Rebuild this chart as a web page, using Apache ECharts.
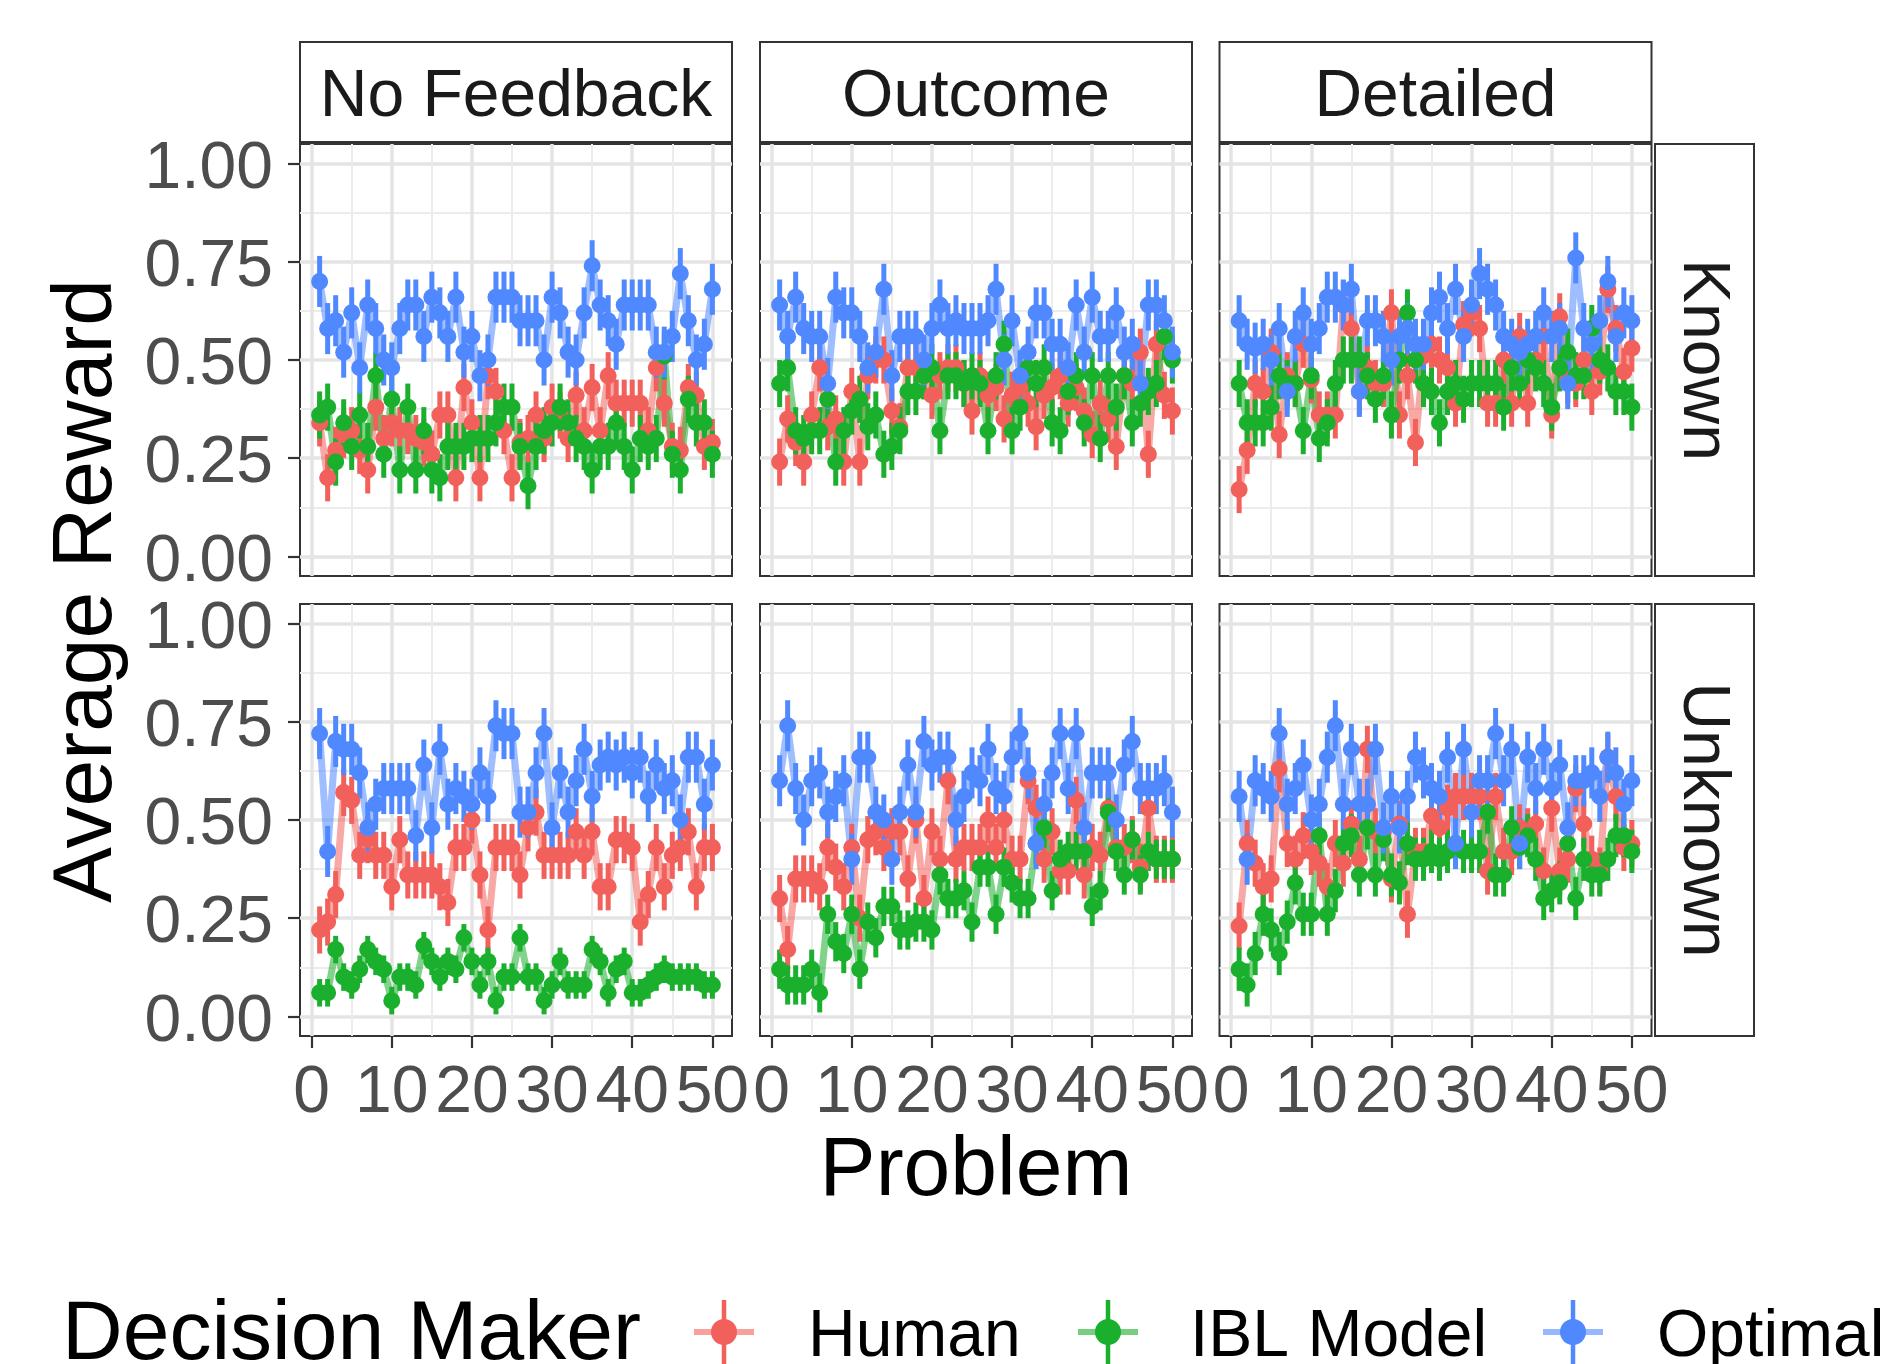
<!DOCTYPE html>
<html>
<head>
<meta charset="utf-8">
<title>Average Reward by Problem</title>
<script src="https://cdn.jsdelivr.net/npm/echarts@6/dist/echarts.min.js"></script>
<style>
  html, body { margin: 0; padding: 0; background: #fff; }
  #chart { width: 1890px; height: 1364px; }
</style>
</head>
<body>
<div id="chart"></div>
<script>
// categories / ticks
const problems = Array.from({ length: 50 }, (_, i) => i + 1);
const feedbackTypes = ['No Feedback', 'Outcome', 'Detailed'];
const knowledgeTypes = ['Known', 'Unknown'];
const decisionMakers = ['Human', 'IBL Model', 'Optimal'];
const xTicks = [0, 10, 20, 30, 40, 50];
const xMinorTicks = [5, 15, 25, 35, 45];
const yTicks = [0, 0.25, 0.5, 0.75, 1];
const yMinorTicks = [0.125, 0.375, 0.625, 0.875];

// No Feedback / Known
const noFeedbackKnownHuman = [
  0.34, 0.20, 0.27, 0.31, 0.32, 0.27, 0.22, 0.38, 0.30, 0.34,
  0.32, 0.32, 0.30, 0.29, 0.26, 0.36, 0.36, 0.20, 0.43, 0.34,
  0.20, 0.46, 0.42, 0.32, 0.20, 0.29, 0.30, 0.36, 0.30, 0.38,
  0.36, 0.30, 0.41, 0.32, 0.43, 0.32, 0.46, 0.39, 0.39, 0.39,
  0.39, 0.32, 0.48, 0.39, 0.28, 0.27, 0.43, 0.41, 0.28, 0.29];
const noFeedbackKnownIBL = [
  0.36, 0.38, 0.24, 0.34, 0.28, 0.36, 0.28, 0.46, 0.26, 0.40,
  0.22, 0.38, 0.22, 0.32, 0.22, 0.20, 0.28, 0.28, 0.28, 0.30,
  0.30, 0.30, 0.34, 0.38, 0.38, 0.28, 0.18, 0.28, 0.32, 0.34,
  0.38, 0.34, 0.30, 0.28, 0.22, 0.28, 0.28, 0.34, 0.28, 0.22,
  0.30, 0.28, 0.30, 0.51, 0.26, 0.22, 0.40, 0.34, 0.34, 0.26];
const noFeedbackKnownOptimal = [
  0.70, 0.58, 0.60, 0.52, 0.62, 0.48, 0.64, 0.58, 0.50, 0.48,
  0.58, 0.64, 0.64, 0.56, 0.66, 0.62, 0.56, 0.66, 0.52, 0.56,
  0.46, 0.50, 0.66, 0.66, 0.66, 0.60, 0.60, 0.60, 0.50, 0.66,
  0.62, 0.52, 0.50, 0.62, 0.74, 0.64, 0.60, 0.54, 0.64, 0.64,
  0.64, 0.64, 0.52, 0.52, 0.56, 0.72, 0.60, 0.50, 0.54, 0.68];

// Outcome / Known
const outcomeKnownHuman = [
  0.24, 0.35, 0.29, 0.24, 0.36, 0.48, 0.33, 0.35, 0.24, 0.42,
  0.24, 0.46, 0.50, 0.50, 0.37, 0.33, 0.48, 0.48, 0.46, 0.41,
  0.46, 0.48, 0.48, 0.44, 0.37, 0.46, 0.41, 0.43, 0.35, 0.41,
  0.43, 0.39, 0.33, 0.41, 0.43, 0.46, 0.39, 0.43, 0.37, 0.31,
  0.39, 0.35, 0.28, 0.46, 0.44, 0.52, 0.26, 0.54, 0.41, 0.37];
const outcomeKnownIBL = [
  0.44, 0.48, 0.32, 0.30, 0.32, 0.32, 0.40, 0.24, 0.32, 0.37,
  0.40, 0.33, 0.36, 0.26, 0.28, 0.32, 0.42, 0.42, 0.46, 0.48,
  0.32, 0.46, 0.46, 0.44, 0.46, 0.44, 0.32, 0.46, 0.54, 0.32,
  0.38, 0.48, 0.44, 0.48, 0.34, 0.32, 0.42, 0.46, 0.34, 0.46,
  0.30, 0.46, 0.38, 0.46, 0.34, 0.39, 0.42, 0.44, 0.56, 0.50];
const outcomeKnownOptimal = [
  0.64, 0.56, 0.66, 0.58, 0.56, 0.56, 0.44, 0.66, 0.62, 0.62,
  0.56, 0.48, 0.52, 0.68, 0.46, 0.56, 0.56, 0.56, 0.50, 0.58,
  0.64, 0.58, 0.60, 0.58, 0.58, 0.58, 0.60, 0.68, 0.50, 0.60,
  0.46, 0.52, 0.62, 0.62, 0.54, 0.54, 0.48, 0.64, 0.52, 0.66,
  0.56, 0.56, 0.62, 0.52, 0.54, 0.44, 0.64, 0.64, 0.60, 0.52];

// Detailed / Known
const detailedKnownHuman = [
  0.17, 0.27, 0.44, 0.42, 0.52, 0.31, 0.46, 0.44, 0.54, 0.45,
  0.36, 0.36, 0.36, 0.64, 0.58, 0.42, 0.48, 0.44, 0.44, 0.62,
  0.36, 0.46, 0.29, 0.51, 0.54, 0.50, 0.48, 0.39, 0.59, 0.62,
  0.58, 0.39, 0.39, 0.50, 0.39, 0.56, 0.39, 0.50, 0.56, 0.36,
  0.61, 0.45, 0.44, 0.50, 0.42, 0.47, 0.68, 0.58, 0.47, 0.53];
const detailedKnownIBL = [
  0.44, 0.34, 0.34, 0.34, 0.38, 0.46, 0.44, 0.44, 0.32, 0.46,
  0.30, 0.34, 0.44, 0.50, 0.50, 0.50, 0.46, 0.40, 0.46, 0.36,
  0.50, 0.62, 0.50, 0.44, 0.42, 0.34, 0.42, 0.44, 0.40, 0.44,
  0.44, 0.44, 0.44, 0.38, 0.48, 0.44, 0.50, 0.48, 0.44, 0.38,
  0.48, 0.52, 0.46, 0.46, 0.58, 0.50, 0.48, 0.42, 0.42, 0.38];
const detailedKnownOptimal = [
  0.60, 0.54, 0.53, 0.54, 0.50, 0.58, 0.42, 0.56, 0.62, 0.54,
  0.58, 0.66, 0.66, 0.64, 0.68, 0.42, 0.60, 0.60, 0.56, 0.50,
  0.56, 0.58, 0.54, 0.54, 0.62, 0.66, 0.58, 0.68, 0.56, 0.64,
  0.72, 0.68, 0.64, 0.56, 0.54, 0.52, 0.54, 0.56, 0.62, 0.56,
  0.58, 0.44, 0.76, 0.58, 0.54, 0.60, 0.70, 0.56, 0.62, 0.60];

// No Feedback / Unknown
const noFeedbackUnknownHuman = [
  0.22, 0.24, 0.31, 0.57, 0.55, 0.41, 0.45, 0.41, 0.41, 0.33,
  0.45, 0.36, 0.36, 0.36, 0.36, 0.33, 0.29, 0.43, 0.43, 0.50,
  0.36, 0.22, 0.43, 0.43, 0.43, 0.36, 0.48, 0.52, 0.41, 0.41,
  0.41, 0.41, 0.47, 0.41, 0.47, 0.33, 0.33, 0.45, 0.45, 0.43,
  0.24, 0.31, 0.43, 0.33, 0.41, 0.43, 0.47, 0.33, 0.43, 0.43];
const noFeedbackUnknownIBL = [
  0.06, 0.06, 0.17, 0.10, 0.08, 0.12, 0.17, 0.14, 0.12, 0.04,
  0.10, 0.10, 0.08, 0.18, 0.14, 0.10, 0.14, 0.12, 0.20, 0.14,
  0.08, 0.14, 0.04, 0.10, 0.10, 0.20, 0.10, 0.10, 0.04, 0.08,
  0.14, 0.08, 0.08, 0.08, 0.17, 0.14, 0.06, 0.12, 0.14, 0.06,
  0.06, 0.08, 0.10, 0.12, 0.10, 0.10, 0.10, 0.10, 0.08, 0.08];
const noFeedbackUnknownOptimal = [
  0.72, 0.42, 0.70, 0.68, 0.68, 0.62, 0.48, 0.54, 0.58, 0.58,
  0.58, 0.58, 0.46, 0.64, 0.48, 0.68, 0.54, 0.58, 0.56, 0.54,
  0.62, 0.56, 0.74, 0.72, 0.72, 0.52, 0.52, 0.62, 0.72, 0.48,
  0.62, 0.52, 0.60, 0.68, 0.56, 0.64, 0.66, 0.64, 0.66, 0.62,
  0.66, 0.56, 0.64, 0.58, 0.60, 0.50, 0.66, 0.66, 0.54, 0.64];

// Outcome / Unknown
const outcomeUnknownHuman = [
  0.30, 0.17, 0.35, 0.35, 0.35, 0.33, 0.43, 0.38, 0.33, 0.43,
  0.25, 0.45, 0.47, 0.43, 0.47, 0.47, 0.35, 0.50, 0.30, 0.47,
  0.40, 0.60, 0.40, 0.43, 0.43, 0.43, 0.50, 0.43, 0.50, 0.40,
  0.40, 0.60, 0.53, 0.40, 0.47, 0.37, 0.37, 0.55, 0.36, 0.43,
  0.41, 0.53, 0.43, 0.43, 0.45, 0.38, 0.53, 0.40, 0.40, 0.40];
const outcomeUnknownIBL = [
  0.12, 0.08, 0.08, 0.08, 0.12, 0.06, 0.26, 0.19, 0.16, 0.26,
  0.12, 0.24, 0.20, 0.28, 0.28, 0.22, 0.22, 0.24, 0.24, 0.22,
  0.36, 0.30, 0.30, 0.32, 0.24, 0.38, 0.38, 0.26, 0.38, 0.34,
  0.30, 0.30, 0.44, 0.48, 0.32, 0.40, 0.42, 0.42, 0.42, 0.28,
  0.32, 0.52, 0.42, 0.36, 0.45, 0.36, 0.42, 0.40, 0.40, 0.40];
const outcomeUnknownOptimal = [
  0.60, 0.74, 0.58, 0.50, 0.60, 0.62, 0.52, 0.56, 0.60, 0.40,
  0.66, 0.66, 0.52, 0.50, 0.40, 0.52, 0.64, 0.52, 0.70, 0.64,
  0.66, 0.66, 0.50, 0.56, 0.62, 0.60, 0.68, 0.58, 0.56, 0.66,
  0.72, 0.62, 0.44, 0.54, 0.62, 0.72, 0.58, 0.72, 0.48, 0.62,
  0.62, 0.62, 0.50, 0.64, 0.70, 0.58, 0.58, 0.58, 0.60, 0.52];

// Detailed / Unknown
const detailedUnknownHuman = [
  0.23, 0.44, 0.39, 0.33, 0.35, 0.63, 0.44, 0.40, 0.46, 0.42,
  0.39, 0.33, 0.44, 0.39, 0.49, 0.40, 0.68, 0.47, 0.47, 0.35,
  0.49, 0.26, 0.42, 0.42, 0.51, 0.48, 0.53, 0.56, 0.56, 0.56,
  0.56, 0.37, 0.56, 0.42, 0.42, 0.48, 0.47, 0.49, 0.37, 0.53,
  0.37, 0.40, 0.58, 0.49, 0.40, 0.37, 0.66, 0.56, 0.43, 0.44];
const detailedUnknownIBL = [
  0.12, 0.08, 0.16, 0.26, 0.22, 0.16, 0.24, 0.34, 0.26, 0.26,
  0.46, 0.26, 0.32, 0.44, 0.46, 0.36, 0.48, 0.36, 0.45, 0.36,
  0.34, 0.44, 0.40, 0.40, 0.42, 0.40, 0.42, 0.44, 0.42, 0.42,
  0.42, 0.52, 0.36, 0.36, 0.48, 0.43, 0.46, 0.40, 0.30, 0.32,
  0.34, 0.44, 0.30, 0.40, 0.36, 0.36, 0.40, 0.46, 0.46, 0.42];
const detailedUnknownOptimal = [
  0.56, 0.40, 0.60, 0.58, 0.56, 0.72, 0.54, 0.58, 0.64, 0.50,
  0.54, 0.66, 0.74, 0.54, 0.68, 0.54, 0.54, 0.68, 0.48, 0.56,
  0.48, 0.56, 0.66, 0.62, 0.58, 0.56, 0.66, 0.44, 0.68, 0.52,
  0.60, 0.60, 0.72, 0.60, 0.68, 0.44, 0.66, 0.58, 0.68, 0.58,
  0.64, 0.48, 0.60, 0.60, 0.62, 0.56, 0.66, 0.62, 0.54, 0.60];

// error bar half widths per panel: [Human, IBL Model, Optimal]
const errNoFeedbackKnown = [0.06, 0.06, 0.065];
const errOutcomeKnown = [0.06, 0.06, 0.065];
const errDetailedKnown = [0.06, 0.06, 0.065];
const errNoFeedbackUnknown = [0.06, 0.035, 0.065];
const errOutcomeUnknown = [0.06, 0.05, 0.065];
const errDetailedUnknown = [0.06, 0.055, 0.065];

// row by row, left to right
const panels = [
  { values: [noFeedbackKnownHuman, noFeedbackKnownIBL, noFeedbackKnownOptimal], err: errNoFeedbackKnown },
  { values: [outcomeKnownHuman, outcomeKnownIBL, outcomeKnownOptimal], err: errOutcomeKnown },
  { values: [detailedKnownHuman, detailedKnownIBL, detailedKnownOptimal], err: errDetailedKnown },
  { values: [noFeedbackUnknownHuman, noFeedbackUnknownIBL, noFeedbackUnknownOptimal], err: errNoFeedbackUnknown },
  { values: [outcomeUnknownHuman, outcomeUnknownIBL, outcomeUnknownOptimal], err: errOutcomeUnknown },
  { values: [detailedUnknownHuman, detailedUnknownIBL, detailedUnknownOptimal], err: errDetailedUnknown }
];

const FONT = '"Liberation Sans", Arial, Helvetica, sans-serif';
const colors = ['#F2605B', '#1AAF2C', '#5088FF'];
const panelLeft = [300, 760, 1219.5];
const panelTop = [144, 604];
const panelW = 432;
const panelH = 432;
const X_MIN = -1.45, X_MAX = 52.45;
const Y_MIN = -0.05, Y_MAX = 1.05;

const chart = echarts.init(document.getElementById('chart'), null, { renderer: 'canvas' });

const grid = [];
const xAxis = [];
const yAxis = [];
const lineSeries = [];
const errSeries = [];
const pointSeries = [];

panels.forEach((panel, idx) => {
  const row = Math.floor(idx / 3);
  const col = idx % 3;
  const bottomRow = row === 1;
  const leftCol = col === 0;

  grid.push({
    left: panelLeft[col], top: panelTop[row], width: panelW, height: panelH,
    show: true, backgroundColor: '#fff', borderColor: '#333333', borderWidth: 2
  });

  // major x axis (data axis)
  xAxis.push({
    type: 'value', gridIndex: idx, min: X_MIN, max: X_MAX, position: 'bottom',
    axisLine: { show: false, onZero: false },
    axisTick: { show: bottomRow, length: 12, customValues: xTicks, lineStyle: { color: '#333333', width: 2.2 } },
    axisLabel: { show: bottomRow, customValues: xTicks, margin: 25, fontSize: 66, color: '#4D4D4D', fontFamily: FONT },
    splitLine: { show: true, lineStyle: { color: '#E4E4E4', width: 3.5 } }
  });
  // minor x grid lines
  xAxis.push({
    type: 'value', gridIndex: idx, min: X_MIN, max: X_MAX, position: 'top',
    axisLine: { show: false, onZero: false },
    axisTick: { show: false, customValues: xMinorTicks },
    axisLabel: { show: false },
    splitLine: { show: true, lineStyle: { color: '#ECECEC', width: 2 } }
  });

  yAxis.push({
    type: 'value', gridIndex: idx, min: Y_MIN, max: Y_MAX, position: 'left',
    axisLine: { show: false, onZero: false },
    axisTick: { show: leftCol, length: 12, customValues: yTicks, lineStyle: { color: '#333333', width: 2.2 } },
    axisLabel: {
      show: leftCol, customValues: yTicks, margin: 27,
      formatter: v => '{v|' + v.toFixed(2) + '}',
      rich: { v: { fontSize: 66, color: '#4D4D4D', fontFamily: FONT, padding: [12, 0, 0, 0] } }
    },
    splitLine: { show: true, lineStyle: { color: '#E4E4E4', width: 3.5 } }
  });
  yAxis.push({
    type: 'value', gridIndex: idx, min: Y_MIN, max: Y_MAX, position: 'right',
    axisLine: { show: false, onZero: false },
    axisTick: { show: false, customValues: yMinorTicks },
    axisLabel: { show: false },
    splitLine: { show: true, lineStyle: { color: '#ECECEC', width: 2 } }
  });

  const xi = idx * 2;
  decisionMakers.forEach((dm, k) => {
    const vals = panel.values[k];
    const e = panel.err[k];
    const pts = vals.map((v, i) => [problems[i], v]);
    lineSeries.push({
      type: 'line', name: dm, xAxisIndex: xi, yAxisIndex: xi, z: 2,
      showSymbol: false, symbol: 'none', silent: true,
      lineStyle: { color: colors[k], width: 7, opacity: 0.55 },
      data: pts
    });
    errSeries.push({
      type: 'custom', name: dm, xAxisIndex: xi, yAxisIndex: xi, z: 3, silent: true,
      encode: { x: 0, y: [1, 2] },
      renderItem: (params, api) => {
        const lo = api.coord([api.value(0), api.value(1)]);
        const hi = api.coord([api.value(0), api.value(2)]);
        return {
          type: 'line',
          shape: { x1: lo[0], y1: lo[1], x2: hi[0], y2: hi[1] },
          style: { stroke: colors[k], lineWidth: 5 }
        };
      },
      data: vals.map((v, i) => [problems[i], v - e, v + e])
    });
    pointSeries.push({
      type: 'scatter', name: dm, xAxisIndex: xi, yAxisIndex: xi, z: 4, silent: true,
      symbol: 'circle', symbolSize: 17,
      itemStyle: { color: colors[k], opacity: 1 },
      data: pts
    });
  });
});

// facet strips, axis titles and legend
const graphic = [];
feedbackTypes.forEach((name, col) => {
  graphic.push({
    type: 'rect', shape: { x: panelLeft[col], y: 42, width: panelW, height: 100 },
    style: { fill: '#fff', stroke: '#333333', lineWidth: 2 }
  });
  graphic.push({
    type: 'text', x: panelLeft[col] + panelW / 2, y: 98,
    style: { text: name, font: '66px ' + FONT, fill: '#1A1A1A', textAlign: 'center', textVerticalAlign: 'middle' }
  });
});
knowledgeTypes.forEach((name, row) => {
  graphic.push({
    type: 'rect', shape: { x: 1655, y: panelTop[row], width: 99, height: panelH },
    style: { fill: '#fff', stroke: '#333333', lineWidth: 2 }
  });
  graphic.push({
    type: 'text', x: 1702, y: panelTop[row] + panelH / 2, rotation: -Math.PI / 2,
    style: { text: name, font: '66px ' + FONT, fill: '#1A1A1A', textAlign: 'center', textVerticalAlign: 'middle' }
  });
});
graphic.push({
  type: 'text', x: 88, y: 591, rotation: Math.PI / 2,
  style: { text: 'Average Reward', font: '84px ' + FONT, fill: '#000', textAlign: 'center', textVerticalAlign: 'middle' }
});
graphic.push({
  type: 'text', x: 976, y: 1172,
  style: { text: 'Problem', font: '84px ' + FONT, fill: '#000', textAlign: 'center', textVerticalAlign: 'middle' }
});
graphic.push({
  type: 'text', x: 62, y: 1336,
  style: { text: 'Decision Maker', font: '84px ' + FONT, fill: '#000', textAlign: 'left', textVerticalAlign: 'middle' }
});
const legendKeyX = [724, 1108, 1573];
const legendTextX = [808, 1190, 1657];
decisionMakers.forEach((dm, k) => {
  const cx = legendKeyX[k];
  graphic.push({
    type: 'line', shape: { x1: cx - 30, y1: 1332, x2: cx + 30, y2: 1332 },
    style: { stroke: colors[k], lineWidth: 6, opacity: 0.6 }
  });
  graphic.push({
    type: 'line', shape: { x1: cx, y1: 1300, x2: cx, y2: 1364 },
    style: { stroke: colors[k], lineWidth: 4.5 }
  });
  graphic.push({
    type: 'circle', shape: { cx: cx, cy: 1332, r: 13 },
    style: { fill: colors[k] }
  });
  graphic.push({
    type: 'text', x: legendTextX[k], y: 1338,
    style: { text: dm, font: '66px ' + FONT, fill: '#000', textAlign: 'left', textVerticalAlign: 'middle' }
  });
});

chart.setOption({
  backgroundColor: '#fff',
  animation: false,
  grid: grid,
  xAxis: xAxis,
  yAxis: yAxis,
  series: [...lineSeries, ...errSeries, ...pointSeries],
  graphic: graphic
});
</script>
</body>
</html>
